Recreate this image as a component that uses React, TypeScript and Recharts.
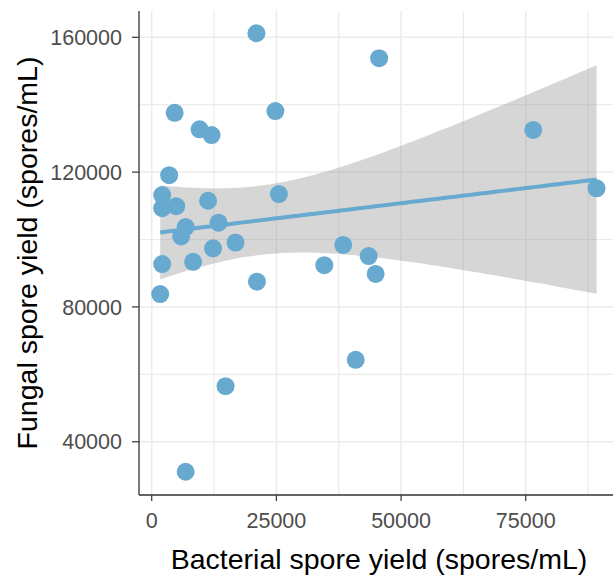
import React from 'react';
import {
  ComposedChart,
  Scatter,
  Line,
  Area,
  XAxis,
  YAxis,
  CartesianGrid,
  Label,
} from 'recharts';

// Paired spore yields per isolate (spores/mL)
const bacterialYield = [
  21000, 4600, 9600, 12000, 24800, 3500, 2100, 2100, 4900, 11300,
  25500, 13400, 6800, 5900, 12300, 16800, 2100, 8300, 21100, 1700,
  14800, 6800, 45600, 34600, 38400, 43500, 44900, 40900, 76500, 89200,
];
const fungalYield = [
  161200, 137600, 132700, 131000, 138100, 119100, 113200, 109300, 109900, 111500,
  113500, 105000, 103700, 100900, 97400, 99100, 92700, 93400, 87500, 83800,
  56500, 31100, 153800, 92400, 98400, 95100, 89800, 64300, 132500, 115200,
];

const xTicks = [0, 25000, 50000, 75000];
const yTicks = [40000, 80000, 120000, 160000];
const xMinorTicks = [12500, 37500, 62500, 87500];
const yMinorTicks = [60000, 100000, 140000];

const xTitle = 'Bacterial spore yield (spores/mL)';
const yTitle = 'Fungal spore yield (spores/mL)';

const POINT_COLOR = '#67A9CF';
const FONT = '"Liberation Sans", Arial, sans-serif';

const points = bacterialYield.map((x, i) => ({ x, y: fungalYield[i] }));

// Ordinary least squares fit with a 95% confidence band (t, df = n - 2 = 28)
const T_975_DF28 = 2.048;
function buildSmooth() {
  const n = points.length;
  const mx = points.reduce((s, p) => s + p.x, 0) / n;
  const my = points.reduce((s, p) => s + p.y, 0) / n;
  let sxx = 0;
  let sxy = 0;
  points.forEach((p) => {
    sxx += (p.x - mx) ** 2;
    sxy += (p.x - mx) * (p.y - my);
  });
  const slope = sxy / sxx;
  const intercept = my - slope * mx;
  let sse = 0;
  points.forEach((p) => {
    sse += (p.y - (intercept + slope * p.x)) ** 2;
  });
  const s = Math.sqrt(sse / (n - 2));
  const xs = points.map((p) => p.x);
  const lo = Math.min(...xs);
  const hi = Math.max(...xs);
  const steps = 80;
  const rows = [];
  for (let k = 0; k < steps; k++) {
    const x = lo + ((hi - lo) * k) / (steps - 1);
    const fit = intercept + slope * x;
    const se = s * Math.sqrt(1 / n + (x - mx) ** 2 / sxx);
    rows.push({ x, fit, band: [fit - T_975_DF28 * se, fit + T_975_DF28 * se] });
  }
  return rows;
}
const smoothRows = buildSmooth();

const tickStyle = { fill: '#4D4D4D', fontSize: 21.5, fontFamily: FONT };

export default function App() {
  return (
    <div
      style={{
        position: 'absolute',
        left: 0,
        top: 0,
        width: 613,
        height: 577,
        overflow: 'hidden',
        background: '#ffffff',
      }}
    >
      <ComposedChart
        width={640}
        height={577}
        data={smoothRows}
        margin={{ top: 11, right: 21, bottom: 0, left: 0 }}
      >
        <CartesianGrid
          verticalValues={xMinorTicks}
          horizontalValues={yMinorTicks}
          stroke="#EBEBEB"
          strokeWidth={1.2}
        />
        <CartesianGrid
          verticalValues={xTicks}
          horizontalValues={yTicks}
          stroke="#EBEBEB"
          strokeWidth={1.5}
        />
        <XAxis
          dataKey="x"
          type="number"
          domain={[-2550, 93700]}
          allowDataOverflow
          ticks={xTicks}
          interval={0}
          height={82}
          tick={tickStyle}
          tickSize={6}
          tickMargin={12}
          axisLine={{ stroke: '#333333', strokeWidth: 1.3 }}
          tickLine={{ stroke: '#333333', strokeWidth: 1.2 }}
        >
          <Label
            content={({ viewBox }: any) => (
              <text
                x={viewBox.x + viewBox.width / 2}
                y={viewBox.y + 73.5}
                textAnchor="middle"
                fill="#000000"
                fontSize={28.5}
                fontFamily={FONT}
              >
                {xTitle}
              </text>
            )}
          />
        </XAxis>
        <XAxis
          xAxisId="top"
          orientation="top"
          type="number"
          domain={[-2550, 93700]}
          allowDataOverflow
          height={0}
          tick={false}
          tickLine={false}
          axisLine={{ stroke: '#333333', strokeWidth: 1.3 }}
        />
        <YAxis
          dataKey="y"
          type="number"
          domain={[24200, 167800]}
          allowDataOverflow
          ticks={yTicks}
          interval={0}
          width={139}
          tick={tickStyle}
          tickSize={7}
          tickMargin={10}
          axisLine={{ stroke: '#333333', strokeWidth: 1.3 }}
          tickLine={{ stroke: '#333333', strokeWidth: 1.2 }}
        >
          <Label
            content={({ viewBox }: any) => {
              const cx = 37;
              const cy = viewBox.y + viewBox.height / 2;
              return (
                <text
                  x={cx}
                  y={cy}
                  transform={`rotate(-90, ${cx}, ${cy})`}
                  textAnchor="middle"
                  fill="#000000"
                  fontSize={28.5}
                  fontFamily={FONT}
                >
                  {yTitle}
                </text>
              );
            }}
          />
        </YAxis>
        <Area
          dataKey="band"
          type="linear"
          stroke="none"
          fill="#999999"
          fillOpacity={0.4}
          isAnimationActive={false}
          activeDot={false}
          dot={false}
        />
        <Scatter
          data={points}
          isAnimationActive={false}
          shape={(p: any) => <circle cx={p.cx} cy={p.cy} r={9} fill={POINT_COLOR} />}
        />
        <Line
          dataKey="fit"
          type="linear"
          stroke={POINT_COLOR}
          strokeWidth={4}
          dot={false}
          activeDot={false}
          isAnimationActive={false}
        />
      </ComposedChart>
    </div>
  );
}
